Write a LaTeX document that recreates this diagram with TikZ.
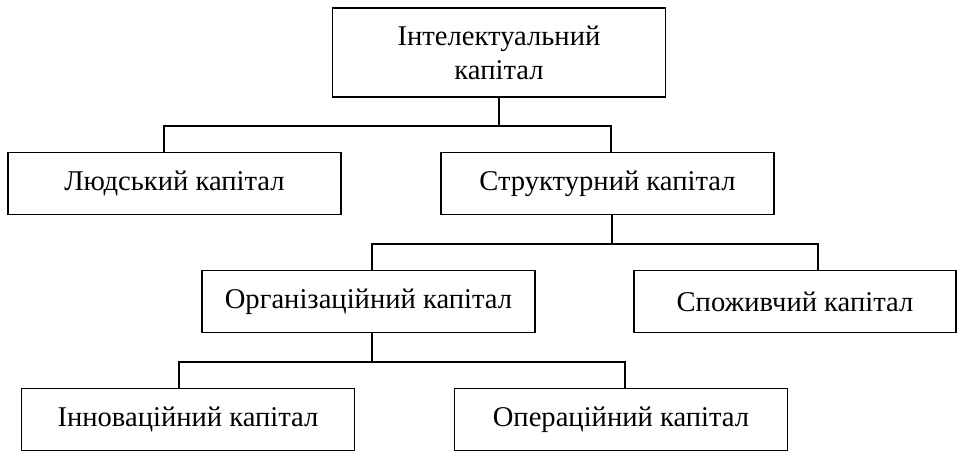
\documentclass[tikz,border=0pt]{standalone}
\usepackage{fontspec}
\setmainfont{Liberation Serif}
\usetikzlibrary{positioning}

\begin{document}
\begin{tikzpicture}[x=1pt,y=-1pt,line width=1.8pt,
                    cap box/.style={rectangle,draw,minimum width=333pt,minimum height=62pt,
                                    inner sep=0pt,align=center,
                                    font=\fontsize{28.6}{34}\selectfont}
                   ]
  \useasboundingbox (0,0) rectangle (958,452);

  \node[cap box,minimum height=89pt] (ic) at (499,52.5) {Інтелектуальний\\капітал};
  \node[cap box] (hc)  at (174.5,183.5) {Людський капітал};
  \node[cap box] (sc)  at (607.5,183.5) {Структурний капітал};
  \node[cap box] (oc)  at (368.5,301.5) {Організаційний капітал};
  \node[cap box,minimum width=322pt] (cc) at (795,301.5) {Споживчий капітал};
  \node[cap box] (inc) at (188,419.5) {Інноваційний капітал};
  \node[cap box] (opc) at (621,419.5) {Операційний капітал};

  % first level
  \draw (ic.south) -- ++(0,28);
  \draw ([xshift=-10.5pt]hc.north) |- ([yshift=-28pt]ic.south) -| ([xshift=3.5pt]sc.north);

  % second level
  \draw ([xshift=4.5pt]sc.south) -- ++(0,28.5);
  \draw ([xshift=3.5pt]oc.north) |- ([xshift=4.5pt,yshift=-28.5pt]sc.south) -| ([xshift=23pt]cc.north);

  % third level
  \draw ([xshift=3.5pt]oc.south) -- ++(0,28.5);
  \draw ([xshift=-9pt]inc.north) |- ([xshift=3.5pt,yshift=-28.5pt]oc.south) -| ([xshift=4pt]opc.north);
\end{tikzpicture}
\end{document}
